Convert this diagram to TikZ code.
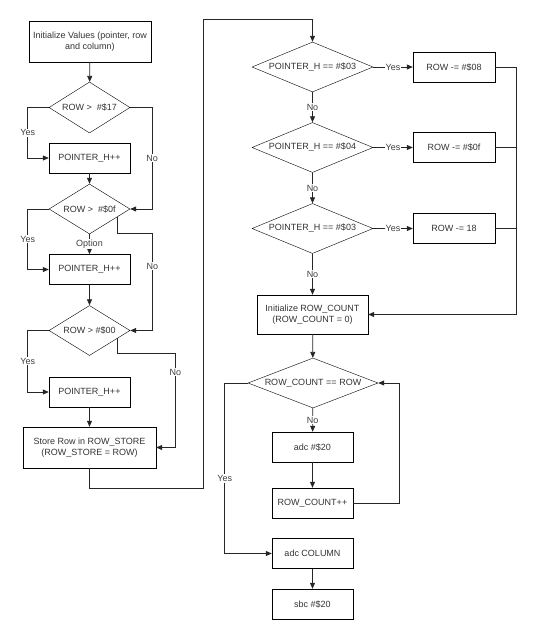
\documentclass[tikz,border=0pt]{standalone}
\usepackage{fontspec}
\setmainfont{Liberation Sans}
\usetikzlibrary{shapes.geometric, arrows.meta}

\tikzset{
    proc/.style={rectangle, draw, minimum width=81pt, minimum height=30pt, inner sep=2pt, align=center},
    cond/.style={diamond, draw, aspect=2.4, minimum width=81pt, minimum height=51pt, inner sep=0pt},
    flow/.style={draw=black!85, line width=0.8pt, -{Triangle[length=6pt,width=5pt]}},
    plain/.style={draw=black!85, line width=0.8pt},
    tag/.style={fill=white, inner sep=1pt, text=black!75},
}

\begin{document}
\begin{tikzpicture}[x=1pt, y=-1pt, every node/.style={font=\fontsize{9}{11}\selectfont, text=black!80}]
        \useasboundingbox (0,0) rectangle (537,640);

        % left column
        \node[proc, minimum width=122pt, minimum height=41pt] (init) at (90, 41.5) {Initialize Values (pointer, row\\and column)};
        \node[cond] (d1) at (89.5, 107.5) {ROW >\ \ \#\$17};
        \node[proc] (p1) at (89.5, 158) {POINTER\_H++};
        \node[cond, minimum height=50pt] (d2) at (89.5, 209) {ROW >\ \ \#\$0f};
        \node[proc] (p2) at (89.5, 269.5) {POINTER\_H++};
        \node[cond, minimum height=50pt] (d3) at (89.5, 330.5) {ROW > \#\$00};
        \node[proc] (p3) at (89.5, 392) {POINTER\_H++};
        \node[proc, minimum width=133pt, minimum height=41pt] (store) at (89.5, 447.5) {Store Row in ROW\_STORE\\(ROW\_STORE = ROW)};

        % right column
        \node[cond, minimum width=121pt, minimum height=50pt] (d4) at (312.5, 67) {POINTER\_H == \#\$03};
        \node[proc, minimum width=82pt] (r1) at (454, 67) {ROW -= \#\$08};
        \node[cond, minimum width=121pt, minimum height=50pt] (d5) at (312.5, 147.5) {POINTER\_H == \#\$04};
        \node[proc, minimum width=82pt] (r2) at (454, 147.5) {ROW -= \#\$0f};
        \node[cond, minimum width=121pt, minimum height=50pt] (d6) at (312.5, 228.5) {POINTER\_H == \#\$03};
        \node[proc, minimum width=82pt] (r3) at (454, 228.5) {ROW -= 18};
        \node[proc, minimum width=111pt, minimum height=39pt] (cnt) at (312.5, 314.5) {Initialize ROW\_COUNT\\(ROW\_COUNT = 0)};
        \node[cond, minimum width=130pt, minimum height=50pt] (d7) at (313, 383) {ROW\_COUNT == ROW};
        \node[proc] (add) at (312.5, 447) {adc \#\$20};
        \node[proc] (cntp) at (312.5, 503) {ROW\_COUNT++};
        \node[proc] (col) at (312.5, 553.5) {adc COLUMN};
        \node[proc] (sub) at (312.5, 604) {sbc \#\$20};

        \draw[flow] (init) -- (d1);
        \draw[flow] (d1.west) -- ++(-21,0) |- node[tag, pos=0.25] {Yes} (p1.west);
        \draw[flow] (d1.east) -- ++(22,0) |- node[tag, pos=0.25] {No} (d2.east);
        \draw[flow] (p1) -- (d2);
        \draw[flow] (d2.west) -- ++(-21,0) |- node[tag, pos=0.25] {Yes} (p2.west);
        \draw[flow] (d2) -- node[tag] {Option} (p2);
        \draw[flow] (d2.-16) |- ++(35,16) |- node[tag, pos=0.17] {No} (d3.east);
        \draw[flow] (p2) -- (d3);
        \draw[flow] (d3.west) -- ++(-21,0) |- node[tag, pos=0.25] {Yes} (p3.west);
        \draw[flow] (d3.-16) |- ++(58,15) |- node[tag, pos=0.1] {No} (store.east);
        \draw[flow] (p3) -- (store);
        \draw[flow] (store.south) |- ++(113.5,20) |- ([yshift=22pt]d4.north) -- (d4.north);

        \draw[flow] (d4) -- node[tag] {Yes} (r1);
        \draw[flow] (d4) -- node[tag] {No} (d5);
        \draw[flow] (d5) -- node[tag] {Yes} (r2);
        \draw[flow] (d5) -- node[tag] {No} (d6);
        \draw[flow] (d6) -- node[tag] {Yes} (r3);
        \draw[flow] (d6) -- node[tag] {No} (cnt);
        \draw[flow] (r1.east) -- ++(21,0) |- (cnt.east);
        \draw[plain] (r2.east) -- ++(21,0)
            (r3.east) -- ++(21,0);

        \draw[flow] (cnt) -- (d7);
        \draw[flow] (d7) -- node[tag] {No} (add);
        \draw[flow] (add) -- (cntp);
        \draw[flow] (cntp.east) -- ++(46,0) |- (d7.east);
        \draw[flow] (d7.west) -- ++(-23,0) |- node[tag, pos=0.28] {Yes} (col.west);
        \draw[flow] (col) -- (sub);
    \end{tikzpicture}
\end{document}
